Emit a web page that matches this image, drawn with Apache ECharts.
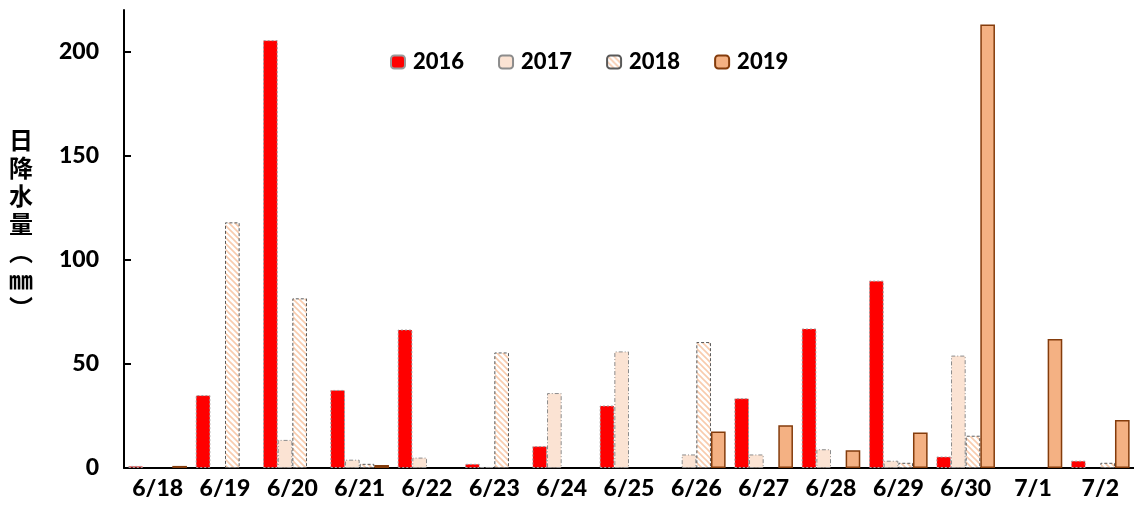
<!DOCTYPE html>
<html><head><meta charset="utf-8">
<script src="https://cdn.jsdelivr.net/npm/echarts@6/dist/echarts.min.js"></script>
<style>html,body{margin:0;padding:0;background:#fff}#c{width:1134px;height:523px}</style>
</head><body><div id="c"></div>
<script>
const categories = ['6/18','6/19','6/20','6/21','6/22','6/23','6/24','6/25','6/26','6/27','6/28','6/29','6/30','7/1','7/2'];
const s2016 = [1, 35, 205.5, 37.5, 66.5, 2, 10.5, 30, null, 33.5, 67, 90, 5.5, null, 3.5];
const s2017 = [null, null, 13.5, 4, 5, 0.5, 36, 56, 6.5, 6.5, 9, 3.5, 54, null, null];
const s2018 = [null, 118, 81.5, 2, null, 55.5, null, null, 60.5, null, null, 2.5, 15.5, null, 2.5];
const s2019 = [1, null, null, 1.5, null, null, null, null, 17.5, 20.5, 8.5, 17, 213, 62, 23];
const yTicks = [0, 50, 100, 150, 200];
const seriesNames = ['2016','2017','2018','2019'];
const yTitle = '日\n降\n水\n量\n︵\n㎜\n︶';

function hatch() {
  const c = document.createElement('canvas');
  c.width = 6; c.height = 6;
  const g = c.getContext('2d');
  g.fillStyle = '#ffffff'; g.fillRect(0,0,6,6);
  g.strokeStyle = '#F8CBAD'; g.lineWidth = 1.6;
  g.beginPath();
  g.moveTo(-1,-1); g.lineTo(7,7);
  g.moveTo(-4,2); g.lineTo(4,10);
  g.moveTo(2,-4); g.lineTo(10,4);
  g.stroke();
  return c;
}

const chart = echarts.init(document.getElementById('c'), null, {renderer:'canvas'});
const font = 'Lato, "Open Sans", sans-serif';
const fw = 900;
chart.setOption({
  animation: false,
  textStyle: {fontFamily: font, fontWeight: fw, color: '#000'},
  grid: {left: 124, right: 0, top: 10, bottom: 55, containLabel: false},
  legend: {
    data: seriesNames, left: 385, top: 46, itemWidth: 14, itemHeight: 13, itemGap: 34,
    textStyle: {fontFamily: font, fontWeight: fw, fontSize: 22, color: '#000', padding: [0,0,0,3]}
  },
  graphic: [{
    type: 'text', left: 9, top: 126,
    style: {text: yTitle, font: 'bold 24px "Noto Sans CJK SC"', lineHeight: 28, fill: '#000', align: 'center'}
  }],
  xAxis: {
    type: 'category', data: categories,
    axisLine: {lineStyle: {color: '#000', width: 2}},
    axisTick: {inside: true, length: 9, lineStyle: {color: '#000', width: 2}},
    axisLabel: {fontSize: 23, fontWeight: fw, color: '#000', margin: 9, interval: 0, fontFamily: font}
  },
  yAxis: {
    type: 'value', min: 0, max: 220, interval: 50,
    splitLine: {show: false},
    axisLine: {show: true, lineStyle: {color: '#000', width: 2}},
    axisTick: {show: true, inside: true, length: 7, customValues: yTicks, lineStyle: {color: '#000', width: 2}},
    axisLabel: {fontSize: 23, fontWeight: fw, color: '#000', margin: 25, customValues: yTicks, fontFamily: font}
  },
  series: [
    {name: '2016', type: 'bar', data: s2016, barGap: '0%', barCategoryGap: '13%',
     itemStyle: {color: '#FF0000', borderColor: '#9a9a9a', borderWidth: 1, borderType: [2,2]}},
    {name: '2017', type: 'bar', data: s2017,
     itemStyle: {color: '#FBE3D3', borderColor: '#8c8c8c', borderWidth: 1, borderType: [4,2,1,2]}},
    {name: '2018', type: 'bar', data: s2018,
     itemStyle: {color: {image: hatch(), repeat: 'repeat'}, borderColor: '#595959', borderWidth: 1, borderType: [3,2]}},
    {name: '2019', type: 'bar', data: s2019,
     itemStyle: {color: '#F4B183', borderColor: '#843C0C', borderWidth: 1.5}}
  ]
});
</script></body></html>
